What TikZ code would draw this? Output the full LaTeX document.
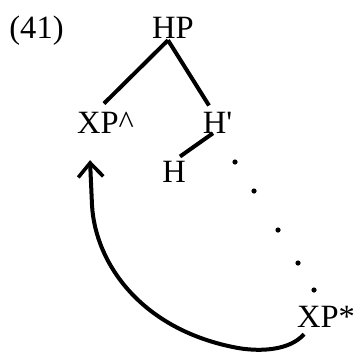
\documentclass[tikz,border=0pt]{standalone}
\usepackage{fontspec}
\setmainfont{Liberation Serif}
\usetikzlibrary{arrows.meta,calc}
\begin{document}
\begin{tikzpicture}[x=1pt,y=-1pt,
  lbl/.style={inner sep=0pt,anchor=base,font=\fontsize{32.5}{38}\selectfont},
  branch/.style={line width=4pt},
  dotmark/.style={fill=black,circle,inner sep=0pt,minimum size=5.2pt},
  move/.style={line width=4pt,-{Straight Barb[length=14pt,width=25pt,line width=3.6pt]}}]
\useasboundingbox (0,0) rectangle (355,351);
\node[lbl] (num) at (36.5,38) {(41)};
\node[lbl] (hp) at (173,38) {HP};
\node[lbl] (xp) at (105.5,133) {XP\textasciicircum};
\node[lbl] (hb) at (217.5,133) {H\textquotesingle};
\node[lbl] (h) at (174,182) {H};
\node[lbl] (xps) at (326,327) {XP*};
\draw[branch] ($(hp.south)+(-5,2)$) -- ($(xp.north)+(-1.5,-8)$);
\draw[branch] ($(hp.south)+(-5,2)$) -- ($(hb.north)+(-8.5,-6)$);
\draw[branch] ($(hb.south)+(-4.5,0)$) -- ($(h.north)+(6,-4)$);
\node[dotmark] (d1) at (235,162) {};
\node[dotmark] (d2) at (254,191) {};
\node[dotmark] (d3) at (278,230) {};
\node[dotmark] (d4) at (298,263) {};
\node[dotmark] (d5) at (314,290) {};
\draw[move] ($(xps.south)+(-22,7)$) .. controls (290,350) and (262,352) .. (238,348)
  .. controls (140,330) and (95,262) .. (92,205) -- ($(xp.south)+(-15.5,27)$);
\end{tikzpicture}
\end{document}
